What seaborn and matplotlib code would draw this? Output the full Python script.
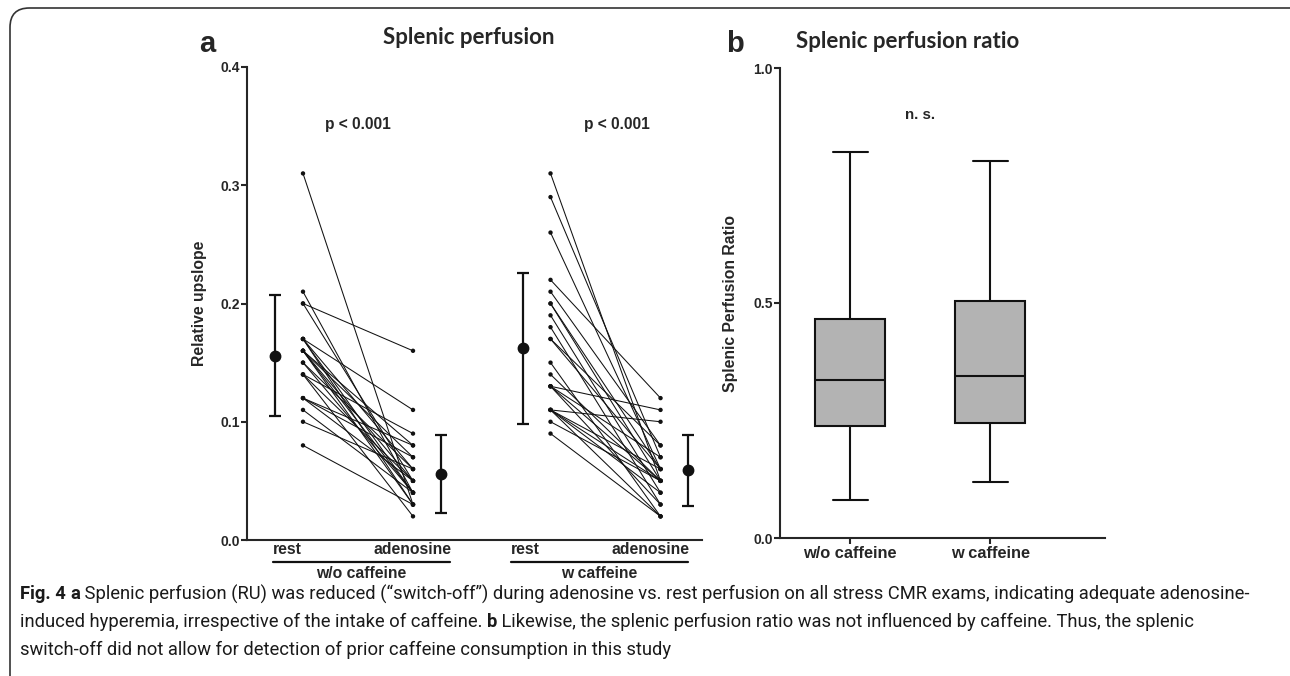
import numpy as np
import pandas as pd
import matplotlib
matplotlib.use("Agg")
import matplotlib.pyplot as plt
import matplotlib.transforms as mtransforms
from matplotlib.patches import FancyBboxPatch
from matplotlib.lines import Line2D
from matplotlib import font_manager as fm
import seaborn as sns

# ---------------- data ----------------
conditions = ["rest", "adenosine"]
groups = ["w/o caffeine", "w caffeine"]

rest_wo = [0.31, 0.21, 0.20, 0.20, 0.17, 0.17, 0.17, 0.17, 0.16, 0.16, 0.16, 0.16,
           0.16, 0.15, 0.15, 0.14, 0.14, 0.14, 0.12, 0.12, 0.12, 0.11, 0.10, 0.08]
aden_wo = [0.03, 0.04, 0.16, 0.05, 0.11, 0.04, 0.03, 0.06, 0.08, 0.05, 0.04, 0.03,
           0.07, 0.06, 0.04, 0.09, 0.05, 0.02, 0.08, 0.07, 0.05, 0.04, 0.06, 0.03]
rest_w = [0.31, 0.29, 0.26, 0.22, 0.21, 0.20, 0.19, 0.18, 0.17, 0.15, 0.14, 0.13,
          0.13, 0.13, 0.13, 0.11, 0.11, 0.11, 0.11, 0.11, 0.10, 0.09, 0.20, 0.17]
aden_w = [0.05, 0.07, 0.06, 0.12, 0.08, 0.05, 0.04, 0.03, 0.06, 0.02, 0.05, 0.11,
          0.07, 0.03, 0.05, 0.10, 0.06, 0.04, 0.05, 0.02, 0.05, 0.02, 0.06, 0.08]

# mean and SD markers (rest, adenosine)
mean_wo = [0.156, 0.056]
sd_wo = [0.051, 0.033]
mean_w = [0.162, 0.059]
sd_w = [0.064, 0.030]

# panel b: min, Q1, median, Q3, max
ratio_groups = ["w/o caffeine", "w caffeine"]
ratio_wo = [0.081, 0.238, 0.336, 0.466, 0.821]
ratio_w = [0.119, 0.245, 0.345, 0.504, 0.802]

# ---------------- layout ----------------
W, H = 1290, 676
sns.set_style("ticks")
plt.rcParams["font.family"] = ["Liberation Sans", "DejaVu Sans"]
plt.rcParams["axes.linewidth"] = 1.5

fig = plt.figure(figsize=(W / 100, H / 100), dpi=100)
fig.patch.set_facecolor("white")

def px_axes(l, t, r, b):
    return fig.add_axes([l / W, 1 - b / H, (r - l) / W, (b - t) / H])

ax1 = px_axes(247, 67, 702, 540)
ax2 = px_axes(780, 68, 1105, 538)

# x positions (layout)
pos = {("w/o caffeine", "rest"): 0.0, ("w/o caffeine", "adenosine"): 1.0,
       ("w caffeine", "rest"): 2.25, ("w caffeine", "adenosine"): 3.25}
mean_pos = {("w/o caffeine", "rest"): -0.25, ("w/o caffeine", "adenosine"): 1.25,
            ("w caffeine", "rest"): 2.0, ("w caffeine", "adenosine"): 3.5}

rows = []
for g, r_vals, a_vals in [("w/o caffeine", rest_wo, aden_wo), ("w caffeine", rest_w, aden_w)]:
    for i, (r, a) in enumerate(zip(r_vals, a_vals)):
        rows.append({"subject": f"{g}-{i}", "group": g, "cond": "rest", "value": r})
        rows.append({"subject": f"{g}-{i}", "group": g, "cond": "adenosine", "value": a})
df = pd.DataFrame(rows)
df["x"] = [pos[(g, c)] for g, c in zip(df["group"], df["cond"])]

sns.lineplot(data=df, x="x", y="value", units="subject", estimator=None,
             color="#111111", lw=0.75, ax=ax1, legend=False)
sns.scatterplot(data=df, x="x", y="value", color="#111111", s=10,
                edgecolor="none", ax=ax1, legend=False, zorder=3)

mdf = pd.DataFrame({
    "x": [mean_pos[("w/o caffeine", "rest")], mean_pos[("w/o caffeine", "adenosine")],
          mean_pos[("w caffeine", "rest")], mean_pos[("w caffeine", "adenosine")]],
    "mean": mean_wo + mean_w,
    "sd": sd_wo + sd_w,
})
ax1.errorbar(mdf["x"], mdf["mean"], yerr=mdf["sd"], fmt="o", ms=7.5, color="#111111",
             elinewidth=1.6, capsize=4.5, capthick=1.6, zorder=4)

ax1.set_xlim(-0.509, 3.627)
ax1.set_ylim(0, 0.4)
ax1.set_yticks([0.0, 0.1, 0.2, 0.3, 0.4])
ax1.set_yticklabels(["0.0", "0.1", "0.2", "0.3", "0.4"])
ax1.set_xticks([])
ax1.set_xlabel("")
ax1.set_ylabel("Relative upslope", fontsize=11.3, fontweight="bold")
ax1.yaxis.set_label_coords(-0.088, 0.5)
sns.despine(ax=ax1)
ax1.tick_params(axis="y", length=4, width=1.5, labelsize=10, pad=1)
for lab in ax1.get_yticklabels():
    lab.set_fontweight("bold")

# x labels / group bars for panel a
tr = mtransforms.blended_transform_factory(ax1.transData, fig.transFigure)
def fy(p):
    return 1 - p / H
for g, (x0, x1) in zip(groups, [(-0.273, 1.336), (1.89, 3.5)]):
    ax1.text(x0, fy(550), conditions[0], transform=tr, ha="left", va="center",
             fontsize=11.3, fontweight="bold")
    ax1.text(x1 + 0.015, fy(550), conditions[1], transform=tr, ha="right", va="center",
             fontsize=11.3, fontweight="bold")
    ax1.add_line(Line2D([x0, x1], [fy(562), fy(562)], transform=tr, color="#111111",
                        lw=1.6, clip_on=False))
    ax1.text((x0 + x1) / 2, fy(574), g, transform=tr, ha="center", va="center",
             fontsize=11.3, fontweight="bold")

ax1.text(0.5, fy(124), "p < 0.001", transform=tr, ha="center", va="center",
         fontsize=11.2, fontweight="bold")
ax1.text(2.85, fy(125), "p < 0.001", transform=tr, ha="center", va="center",
         fontsize=11.2, fontweight="bold")

# ---------------- panel b ----------------
bdf = pd.DataFrame({"group": [ratio_groups[0]] * 5 + [ratio_groups[1]] * 5,
                    "ratio": ratio_wo + ratio_w})
sns.boxplot(data=bdf, x="group", y="ratio", order=ratio_groups, whis=(0, 100),
            width=0.5, color="#b3b3b3", linecolor="#111111", linewidth=1.5,
            fliersize=0, ax=ax2)
ax2.set_xlim(-0.5, 1.82)
ax2.set_ylim(0, 1.0)
ax2.set_yticks([0.0, 0.5, 1.0])
ax2.set_yticklabels(["0.0", "0.5", "1.0"])
ax2.set_xlabel("")
ax2.set_ylabel("Splenic Perfusion Ratio", fontsize=11.3, fontweight="bold")
ax2.yaxis.set_label_coords(-0.129, 0.5)
sns.despine(ax=ax2)
ax2.tick_params(axis="y", length=4, width=1.5, labelsize=10, pad=1)
ax2.tick_params(axis="x", length=4, width=1.5, labelsize=11.8, pad=2)
for lab in ax2.get_yticklabels() + ax2.get_xticklabels():
    lab.set_fontweight("bold")
ax2.text(920 / W, fy(115), "n. s.", transform=fig.transFigure, ha="center", va="center",
         fontsize=10.8, fontweight="bold")

# ---------------- titles & letters ----------------
title_font = ["Lato", "DejaVu Sans"]
fig.text(207 / W, fy(52), "a", ha="center", va="baseline", fontsize=21, fontweight="bold")
fig.text(735 / W, fy(52), "b", ha="center", va="baseline", fontsize=21, fontweight="bold")
fig.text(469 / W, fy(38), "Splenic perfusion", ha="center", va="center", fontsize=16,
         fontweight="bold", family=title_font)
fig.text(908 / W, fy(41), "Splenic perfusion ratio", ha="center", va="center", fontsize=16,
         fontweight="bold", family=title_font)

# ---------------- frame ----------------
frame = FancyBboxPatch((10 / W, -0.05), 1.2, 1 - 8 / H + 0.05,
                       boxstyle="round,pad=0,rounding_size=0.015",
                       transform=fig.transFigure, fill=False, ec="#333333", lw=1.2,
                       mutation_aspect=W / H)
fig.add_artist(frame)

# ---------------- caption ----------------
names = {f.name for f in fm.fontManager.ttflist}
cap_font = ["Liberation Sans Narrow"] if "Liberation Sans Narrow" in names else ["Roboto"]
cap_font = cap_font + ["DejaVu Sans"]

lines = [
    [("Fig. 4 ", True), ("a", True),
     (" Splenic perfusion (RU) was reduced (\u201cswitch-off\u201d) during adenosine vs. rest perfusion on all stress CMR exams, indicating adequate adenosine-", False)],
    [("induced hyperemia, irrespective of the intake of caffeine. ", False), ("b", True),
     (" Likewise, the splenic perfusion ratio was not influenced by caffeine. Thus, the splenic", False)],
    [("switch-off did not allow for detection of prior caffeine consumption in this study", False)],
]
renderer = fig.canvas.get_renderer()

def seg_width(txt, bold, size):
    t1 = fig.text(0, 0, txt + "|", fontsize=size, family=cap_font,
                  fontweight="bold" if bold else "normal")
    t2 = fig.text(0, 0, "|", fontsize=size, family=cap_font,
                  fontweight="bold" if bold else "normal")
    w = t1.get_window_extent(renderer).width - t2.get_window_extent(renderer).width
    t1.remove(); t2.remove()
    return w

base = 12.0
w0 = sum(seg_width(t, b, base) for t, b in lines[0])
cap_size = base * (1222 / w0)

for line, ypix in zip(lines, [594, 622, 650]):
    x = 20.0
    for txt, bold in line:
        fig.text(x / W, fy(ypix), txt, fontsize=cap_size, family=cap_font,
                 fontweight="bold" if bold else "normal", ha="left", va="center",
                 color="#1a1a1a")
        x += seg_width(txt, bold, cap_size)

fig.savefig("out.png", dpi=100)
